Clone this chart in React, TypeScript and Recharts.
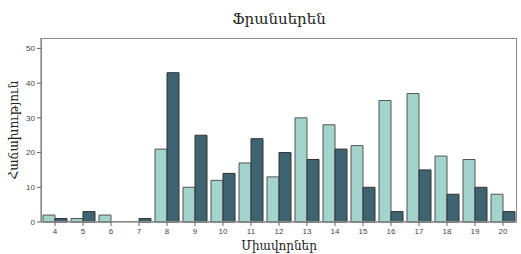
import React from 'react';
import { BarChart, Bar, XAxis, YAxis, Label } from 'recharts';

const scores = ['4', '5', '6', '7', '8', '9', '10', '11', '12', '13', '14', '15', '16', '17', '18', '19', '20'];
const lightValues = [2, 1, 2, 0, 21, 10, 12, 17, 13, 30, 28, 22, 35, 37, 19, 18, 8];
const darkValues = [1, 3, 0, 1, 43, 25, 14, 24, 20, 18, 21, 10, 3, 15, 8, 10, 3];
const yTicks = [0, 10, 20, 30, 40, 50];

const data = scores.map((s, i) => ({ score: s, light: lightValues[i], dark: darkValues[i] }));

if (typeof document !== 'undefined') document.body.style.margin = '0';

const serif = '"DejaVu Serif", serif';
const tickStyle = { fontSize: 8, fill: '#444', fontFamily: '"Liberation Sans", Arial, sans-serif' };

export default function App() {
  return (
    <div style={{ position: 'relative', width: 521, height: 254, background: '#fff' }}>
      <div
        style={{
          position: 'absolute',
          top: 10,
          left: 41,
          width: 476,
          textAlign: 'center',
          fontFamily: serif,
          fontSize: 15,
          color: '#222',
        }}
      >
        Ֆրանսերեն
      </div>
      <BarChart
        width={521}
        height={254}
        data={data}
        margin={{ top: 38, right: 4, bottom: 0, left: 0 }}
        barCategoryGap={2}
        barGap={0}
      >
        <XAxis
          dataKey="score"
          height={32}
          stroke="#666"
          tickLine={{ stroke: '#666' }}
          tickSize={4}
          tick={tickStyle}
          interval={0}
        >
          <Label value="Միավորներ" position="insideBottom" offset={4} style={{ fontFamily: serif, fontSize: 12, fill: '#222' }} />
        </XAxis>
        <YAxis
          domain={[0, 53]}
          ticks={yTicks}
          width={41}
          stroke="#666"
          tickSize={4}
          tick={tickStyle}
          interval={0}
        >
          <Label value="Հաճախություն" angle={-90} position="insideLeft" offset={14} style={{ fontFamily: serif, fontSize: 12, fill: '#222', textAnchor: 'middle' }} />
        </YAxis>
        <Bar dataKey="light" fill="#a3d3cd" stroke="#555" strokeWidth={1} isAnimationActive={false} />
        <Bar dataKey="dark" fill="#3d6470" stroke="#333" strokeWidth={1} isAnimationActive={false} />
      </BarChart>
      <div
        style={{
          position: 'absolute',
          left: 41,
          top: 38,
          width: 476,
          height: 184,
          border: '1px solid #888',
          boxSizing: 'border-box',
          pointerEvents: 'none',
        }}
      />
    </div>
  );
}
